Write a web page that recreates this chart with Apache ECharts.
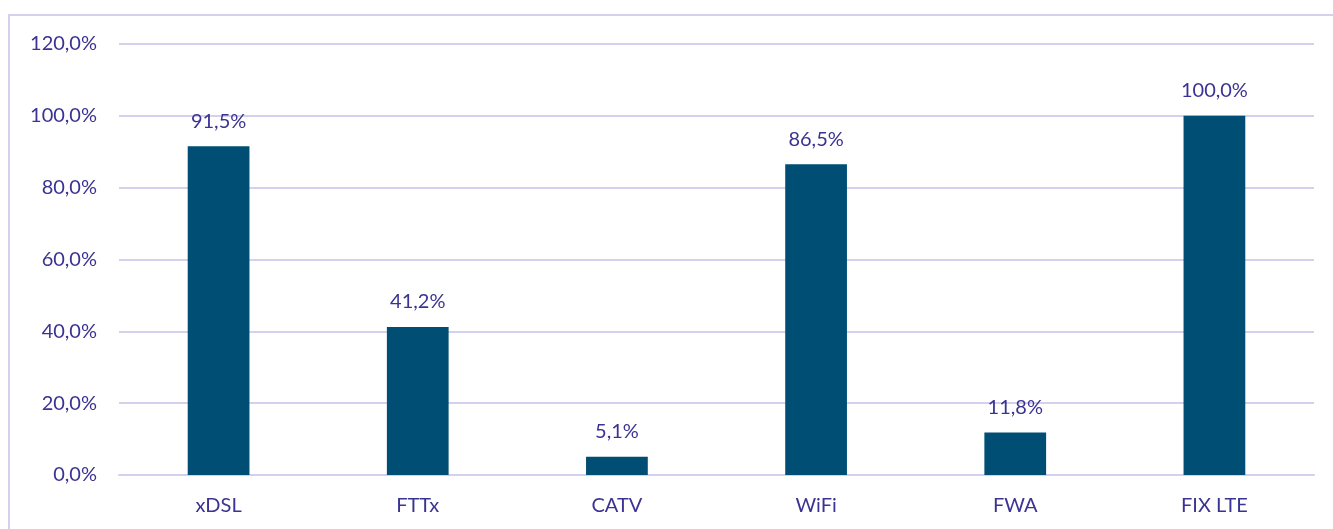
<!DOCTYPE html>
<html><head><meta charset="utf-8">
<script src="https://cdn.jsdelivr.net/npm/echarts@6/dist/echarts.min.js"></script>
<style>
html,body{margin:0;padding:0;background:#fff;}
#frame{position:absolute;left:8px;top:14px;width:1340px;height:540px;border:2px solid #d4d0ee;box-sizing:border-box;}
#c{position:absolute;left:0;top:0;width:1333px;height:529px;}
</style></head>
<body>
<div id="frame"></div>
<div id="c"></div>
<script>
const categories = ['xDSL','FTTx','CATV','WiFi','FWA','FIX LTE'];
const values = [91.5, 41.2, 5.1, 86.5, 11.8, 100.0];
const yTicks = [0,20,40,60,80,100,120];

const fmt = v => v.toFixed(1).replace('.', ',') + '%';
const txt = '#3b3393';
const chart = echarts.init(document.getElementById('c'));
chart.setOption({
  animation:false,
  grid:{left:119, right:19, top:44, bottom:54, containLabel:false},
  xAxis:{type:'category', data:categories,
    axisLine:{lineStyle:{color:'#d4d0ee', width:2}}, axisTick:{show:false},
    axisLabel:{color:txt, fontFamily:'Lato', fontSize:20, margin:21}},
  yAxis:{type:'value', min:0, max:120, interval:20,
    axisLine:{show:false}, axisTick:{show:false},
    splitLine:{lineStyle:{color:'#d4d0ee', width:2}},
    axisLabel:{color:txt, fontFamily:'Lato', fontSize:20, margin:22, formatter:v=>fmt(v)}},
  series:[{type:'bar', data:values, barWidth:'31%',
    itemStyle:{color:'#004e73'},
    label:{show:true, position:'top', distance:15, color:txt, fontFamily:'Lato', fontSize:20,
      formatter:p=>fmt(p.value)}}]
});
</script>
</body></html>
